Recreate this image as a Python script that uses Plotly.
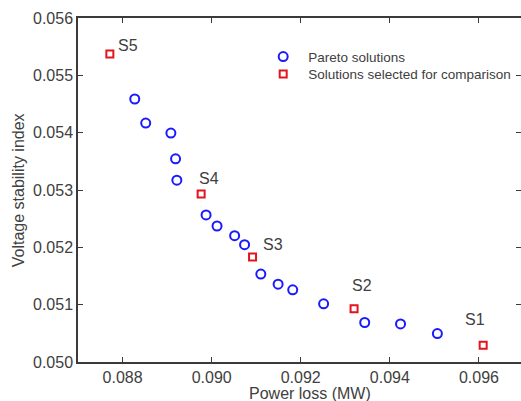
import plotly.graph_objects as go

# Pareto solutions (blue circles)
pareto_loss = [0.088274, 0.08852, 0.089085, 0.08919, 0.089219, 0.089875, 0.090121,
               0.090516, 0.090739, 0.091104, 0.091492, 0.09182, 0.092513, 0.093436,
               0.09424, 0.095067]
pareto_vsi = [0.054587, 0.054168, 0.053993, 0.053544, 0.053171, 0.052565, 0.052372,
              0.052203, 0.052046, 0.051533, 0.051358, 0.051259, 0.051014, 0.050689,
              0.050664, 0.050496]

# Selected solutions (red squares)
sel_names = ["S1", "S2", "S3", "S4", "S5"]
sel_loss = [0.096095, 0.093197, 0.090918, 0.089764, 0.087715]
sel_vsi = [0.050292, 0.050927, 0.05183, 0.052932, 0.055374]

x_ticks = [0.088, 0.090, 0.092, 0.094, 0.096]
y_ticks = [0.050, 0.051, 0.052, 0.053, 0.054, 0.055, 0.056]

FONT = "Liberation Sans, Arial, sans-serif"
TXT = "#404040"
AX = "#3a3a3a"

fig = go.Figure()
fig.add_trace(go.Scatter(
    x=pareto_loss, y=pareto_vsi, mode="markers", name="Pareto solutions", legend="legend",
    marker=dict(symbol="circle-open", size=9, color="#1a1aff", line=dict(width=2, color="#1a1aff")),
))
fig.add_trace(go.Scatter(
    x=sel_loss, y=sel_vsi, mode="markers", name="Solutions selected for comparison", legend="legend2",
    marker=dict(symbol="square-open", size=7, color="#e3141e", line=dict(width=2, color="#e3141e")),
))

label_shift = {"S1": (-8, 26), "S2": (8, 23), "S3": (20, 13), "S4": (8, 15), "S5": (18, 8)}
for n, x, y in zip(sel_names, sel_loss, sel_vsi):
    dx, dy = label_shift[n]
    fig.add_annotation(x=x, y=y, text=n, showarrow=False, xshift=dx, yshift=dy,
                       font=dict(family=FONT, size=16, color=TXT))

PW = 445  # plot-area width in px (right edge slightly beyond the visible page, as in the reference)

# axis titles as annotations
fig.add_annotation(xref="paper", yref="paper", x=(311 - 78) / PW, y=-31 / 344,
                   text="Power loss (MW)", showarrow=False, yanchor="middle", xanchor="center",
                   font=dict(family=FONT, size=16, color=TXT))
fig.add_annotation(xref="paper", yref="paper", x=-60 / PW, y=0.5, textangle=-90,
                   text="Voltage stability index", showarrow=False, xanchor="center", yanchor="middle",
                   font=dict(family=FONT, size=16, color=TXT))

axis_common = dict(showgrid=False, zeroline=False, showline=True, linecolor=AX, linewidth=1.5,
                   mirror="ticks", ticks="inside", ticklen=5, tickwidth=1.2, tickcolor=AX,
                   tickfont=dict(family=FONT, size=16, color=TXT))

leg_common = dict(xanchor="left", yanchor="top", bgcolor="rgba(255,255,255,0)",
                  font=dict(family=FONT, size=13.5, color=TXT), itemwidth=40)

fig.update_layout(
    width=78 + PW, height=401,
    margin=dict(l=78, r=0, t=18, b=39),
    paper_bgcolor="white", plot_bgcolor="white",
    xaxis=dict(range=[0.087, 0.087 + PW / 44.75 * 0.001], tickvals=x_ticks,
               ticktext=[f"{v:.3f}" for v in x_ticks], **axis_common),
    yaxis=dict(range=[0.050, 0.056], tickvals=y_ticks, ticktext=[f"{v:.3f}" for v in y_ticks],
               **axis_common),
    showlegend=True,
    legend=dict(x=(259 - 78) / PW, y=(362 - 41.3) / 344, **leg_common),
    legend2=dict(x=(259 - 78) / PW, y=(362 - 58.7) / 344, **leg_common),
)

fig.write_html("out.html", config={"displayModeBar": False},
               post_script="document.body.style.margin='0';document.body.style.overflow='hidden';")
